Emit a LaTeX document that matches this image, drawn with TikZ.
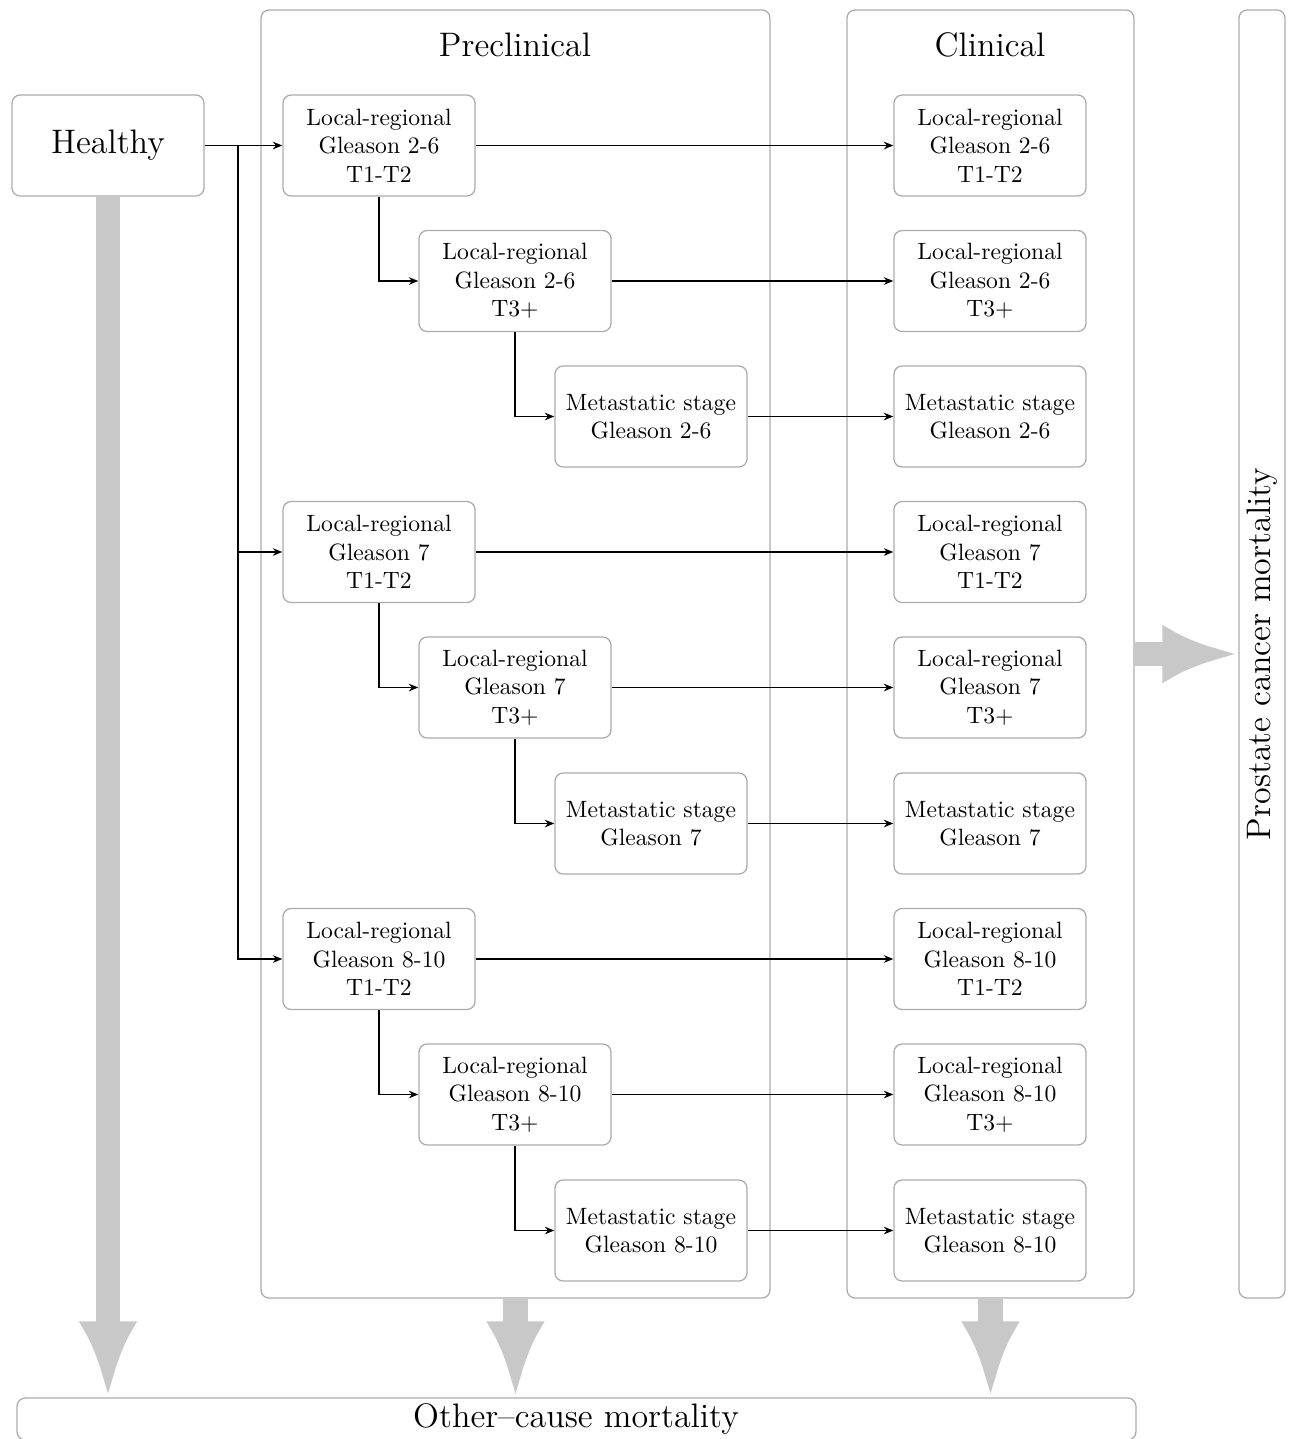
\documentclass[tikz,border=0pt]{standalone}
\usetikzlibrary{arrows.meta}

\definecolor{boxgray}{RGB}{172,172,172}
\definecolor{flowgray}{RGB}{200,200,200}

\begin{document}
\begin{tikzpicture}[
  x=0.4237pt, y=-0.4237pt,
  state/.style={rectangle, rounded corners=3.5pt, draw=boxgray, line width=0.55pt, align=center,
    minimum width=81.4pt, minimum height=42.8pt, inner sep=0pt},
  panel/.style={rectangle, rounded corners=3.5pt, draw=boxgray, line width=0.55pt, inner sep=0pt},
  head/.style={font=\Large, inner sep=0pt},
  link/.style={draw=black, line width=0.55pt, -{Stealth[length=4pt, width=3.2pt]}},
  flow/.style={draw=flowgray, line width=10.2pt, -{Latex[length=32.2pt, width=25pt]}}
]
  \useasboundingbox (0,0) rectangle (1290,1439);

  % --- PANELS ---
  \node[panel, minimum width=215.7pt, minimum height=545.8pt] (pre) at (515.5,654) {};
  \node[panel, minimum width=121.6pt, minimum height=545.8pt] (cli) at (990.5,654) {};
  \node[panel, minimum width=19.5pt, minimum height=545.8pt] (pcm) at (1262,654) {};
  \node[panel, minimum width=474.1pt, minimum height=17.8pt] (ocm) at (576.5,1419) {};

  \node[head] (pre_t) at (515,45) {Preclinical};
  \node[head] (cli_t) at (990,45) {Clinical};
  \node[head, rotate=90] (pcm_t) at (1262,654) {Prostate cancer mortality};
  \node[head] (ocm_t) at (576,1419) {Other--cause mortality};

  \node[state, font=\Large] (healthy) at (108,145.5) {Healthy};

  % --- PRECLINICAL (Gleason 2-6, 7, 8-10) ---
  \node[state] (pre1) at (379,145.5) {Local-regional\\Gleason 2-6\\T1-T2};
  \node[state] (pre2) at (515,281)   {Local-regional\\Gleason 2-6\\T3+};
  \node[state] (pre3) at (651,416.5) {Metastatic stage\\Gleason 2-6};
  \node[state] (pre4) at (379,552)   {Local-regional\\Gleason 7\\T1-T2};
  \node[state] (pre5) at (515,687.5) {Local-regional\\Gleason 7\\T3+};
  \node[state] (pre6) at (651,823.5) {Metastatic stage\\Gleason 7};
  \node[state] (pre7) at (379,959)   {Local-regional\\Gleason 8-10\\T1-T2};
  \node[state] (pre8) at (515,1094.5) {Local-regional\\Gleason 8-10\\T3+};
  \node[state] (pre9) at (651,1230.5) {Metastatic stage\\Gleason 8-10};

  % --- CLINICAL ---
  \node[state] (cli1) at (990,145.5) {Local-regional\\Gleason 2-6\\T1-T2};
  \node[state] (cli2) at (990,281)   {Local-regional\\Gleason 2-6\\T3+};
  \node[state] (cli3) at (990,416.5) {Metastatic stage\\Gleason 2-6};
  \node[state] (cli4) at (990,552)   {Local-regional\\Gleason 7\\T1-T2};
  \node[state] (cli5) at (990,687.5) {Local-regional\\Gleason 7\\T3+};
  \node[state] (cli6) at (990,823.5) {Metastatic stage\\Gleason 7};
  \node[state] (cli7) at (990,959)   {Local-regional\\Gleason 8-10\\T1-T2};
  \node[state] (cli8) at (990,1094.5) {Local-regional\\Gleason 8-10\\T3+};
  \node[state] (cli9) at (990,1230.5) {Metastatic stage\\Gleason 8-10};

  % Onset
  \coordinate (trunk) at (238,145.5);
  \draw[link] (healthy.east) -- (pre1.west);
  \draw[link] (trunk) |- (pre4.west);
  \draw[link] (trunk) |- (pre7.west);

  % Progression
  \draw[link] (pre1.south) |- (pre2.west); \draw[link] (pre2.south) |- (pre3.west);
  \draw[link] (pre4.south) |- (pre5.west); \draw[link] (pre5.south) |- (pre6.west);
  \draw[link] (pre7.south) |- (pre8.west); \draw[link] (pre8.south) |- (pre9.west);

  % Diagnosis
  \draw[link] (pre1.east) -- (cli1.west); \draw[link] (pre2.east) -- (cli2.west);
  \draw[link] (pre3.east) -- (cli3.west); \draw[link] (pre4.east) -- (cli4.west);
  \draw[link] (pre5.east) -- (cli5.west); \draw[link] (pre6.east) -- (cli6.west);
  \draw[link] (pre7.east) -- (cli7.west); \draw[link] (pre8.east) -- (cli8.west);
  \draw[link] (pre9.east) -- (cli9.west);

  % Mortality
  \draw[flow] (healthy.south) -- (healthy.south |- ocm.north);
  \draw[flow] (pre.south) -- (pre.south |- ocm.north);
  \draw[flow] (cli.south) -- (cli.south |- ocm.north);
  \draw[flow] (cli.east) -- (pcm.west);
\end{tikzpicture}
\end{document}
